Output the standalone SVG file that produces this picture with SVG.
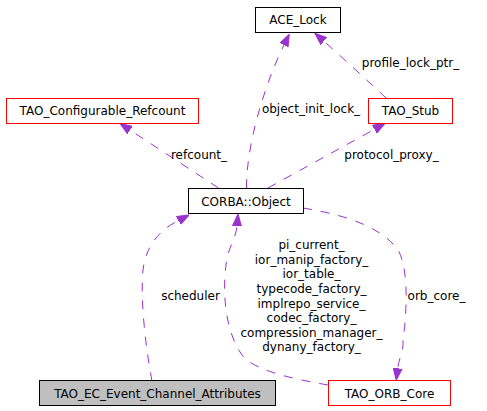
<svg xmlns="http://www.w3.org/2000/svg" width="487" height="411" viewBox="0 0 487 411">
<style>
.box{fill:#ffffff;stroke:#000000;stroke-width:1}
.red{stroke:#ff0000}
.gray{fill:#bfbfbf}
.t{font-family:"DejaVu Sans","Liberation Sans",sans-serif;font-size:12px;fill:#000000;text-anchor:middle}
.e{fill:none;stroke:#9a32cd;stroke-width:1;stroke-dasharray:9,9}
</style>
<defs>
<marker id="arr" markerUnits="userSpaceOnUse" markerWidth="12" markerHeight="10" viewBox="0 0 12 10" refX="0" refY="5" orient="auto">
<path d="M0,0.5 L12,5 L0,9.5 z" fill="#9a32cd" stroke="#9a32cd" stroke-width="1"/>
</marker>
</defs>
<rect width="487" height="411" fill="#ffffff"/>
<g id="edges">
<path class="e" d="M246.5,188 C246,150 262,90 284,45" marker-end="url(#arr)"/>
<text class="t" x="311" y="113">object_init_lock_</text>
<path class="e" d="M386,98 C370,83 345,60 323.8,41.1" marker-end="url(#arr)"/>
<text class="t" x="410.5" y="67">profile_lock_ptr_</text>
<path class="e" d="M268,188 L374.5,129.3" marker-end="url(#arr)"/>
<text class="t" x="391.5" y="159">protocol_proxy_</text>
<path class="e" d="M218.5,188 L130,130.1" marker-end="url(#arr)"/>
<text class="t" x="199" y="159">refcount_</text>
<path class="e" d="M152,381 C146,350 140,300 143,270 C146,245 160,230 178.5,220.5" marker-end="url(#arr)"/>
<text class="t" x="190.5" y="300">scheduler</text>
<path class="e" d="M328,385 C300,380 255,372 242,355 C226,333 222,295 226,265 C227,250 236,238 237,226" marker-end="url(#arr)"/>
<text class="t" x="311.5" y="249">pi_current_</text>
<text class="t" x="311.5" y="263.6">ior_manip_factory_</text>
<text class="t" x="311.5" y="278.3">ior_table_</text>
<text class="t" x="311.5" y="292.9">typecode_factory_</text>
<text class="t" x="311.5" y="307.5">implrepo_service_</text>
<text class="t" x="311.5" y="322.2">codec_factory_</text>
<text class="t" x="311.5" y="336.8">compression_manager_</text>
<text class="t" x="311.5" y="351.4">dynany_factory_</text>
<path class="e" d="M303,208 C340,214 380,225 398,250 C410,270 406,320 403,340 C404,350 399,358 397.7,368.3" marker-end="url(#arr)"/>
<text class="t" x="436.5" y="300">orb_core_</text>
</g>
<g id="node_ace_lock">
<rect class="box" x="255.5" y="7.5" width="85" height="25"/>
<text class="t" x="298" y="24">ACE_Lock</text>
</g>
<g id="node_tao_stub">
<rect class="box red" x="368.5" y="98.5" width="84" height="25"/>
<text class="t" x="410.5" y="115">TAO_Stub</text>
</g>
<g id="node_tao_configurable_refcount">
<rect class="box red" x="6.5" y="98.5" width="192" height="25"/>
<text class="t" x="102.5" y="115">TAO_Configurable_Refcount</text>
</g>
<g id="node_corba_object">
<rect class="box" x="188.5" y="188.5" width="115" height="25"/>
<text class="t" x="246" y="205.5">CORBA::Object</text>
</g>
<g id="node_tao_ec_event_channel_attributes">
<rect class="box gray" x="39.5" y="380.5" width="236" height="25"/>
<text class="t" x="157.5" y="398">TAO_EC_Event_Channel_Attributes</text>
</g>
<g id="node_tao_orb_core">
<rect class="box red" x="328.5" y="380.5" width="122" height="25"/>
<text class="t" x="389.5" y="398">TAO_ORB_Core</text>
</g>
</svg>
